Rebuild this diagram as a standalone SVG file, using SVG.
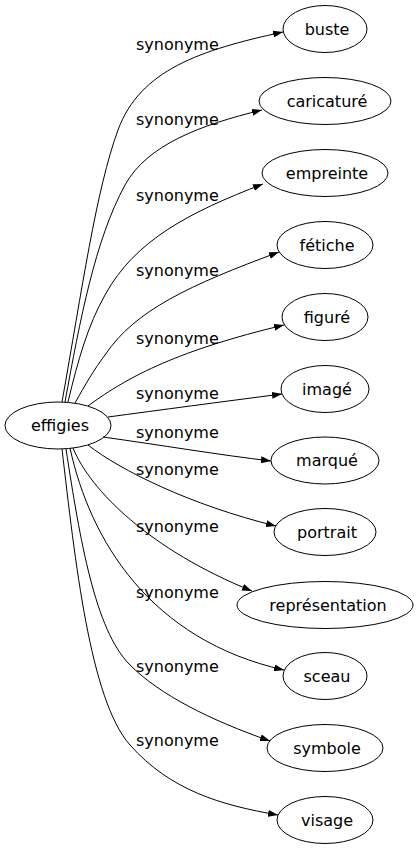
<svg xmlns="http://www.w3.org/2000/svg" width="419" height="851" viewBox="0 0 419 851">
<style>
  .node ellipse { fill: none; stroke: #000; stroke-width: 1; }
  .node text { font-family: "DejaVu Sans", sans-serif; font-size: 16px; text-anchor: middle; fill: #000; }
  .edges path { fill: none; stroke: #000; stroke-width: 1; marker-end: url(#arrow); }
  .edges text { font-family: "DejaVu Sans", sans-serif; font-size: 16px; fill: #000; }
</style>
<defs>
  <marker id="arrow" markerUnits="userSpaceOnUse" markerWidth="10" markerHeight="7" viewBox="0 0 10 7" refX="10" refY="3.5" orient="auto">
    <path d="M0,0 L10,3.5 L0,7 z" fill="#000"/>
  </marker>
</defs>
<rect width="419" height="851" fill="#fff"/>
<g class="edges" id="edges">
  <path d="M62,402 C82,290 96,190 118,130 C140,70 200,50 283,32"/>
  <path d="M65,402 C80,320 95,240 125,185 C147,145 200,125 262,110"/>
  <path d="M68,402 C78,360 88,325 105,295 C135,240 190,212 263,184"/>
  <path d="M75,403 C85,385 95,368 105,355 C135,310 190,285 279,252"/>
  <path d="M88,406 C130,375 180,350 284,325"/>
  <path d="M108,417 C160,410 220,402 282,394"/>
  <path d="M103,437 C160,445 220,455 271,461"/>
  <path d="M88,445 C120,470 190,505 276,526"/>
  <path d="M73,448 C90,490 150,550 252,591"/>
  <path d="M70,448 C90,540 150,640 284,670"/>
  <path d="M66,449 C80,540 95,630 130,665 C160,695 210,720 270,741"/>
  <path d="M62,449 C75,560 90,700 130,745 C170,790 220,805 278,815"/>
  <text x="136" y="50">synonyme</text>
  <text x="136" y="125">synonyme</text>
  <text x="136" y="201">synonyme</text>
  <text x="136" y="276">synonyme</text>
  <text x="136" y="344">synonyme</text>
  <text x="136" y="399">synonyme</text>
  <text x="136" y="438">synonyme</text>
  <text x="136" y="475">synonyme</text>
  <text x="136" y="532">synonyme</text>
  <text x="136" y="598">synonyme</text>
  <text x="136" y="672">synonyme</text>
  <text x="136" y="746">synonyme</text>
</g>
<g class="node" id="n-effigies"><ellipse cx="58" cy="425.5" rx="53" ry="23.5"/><text x="60" y="431">effigies</text></g>
<g class="node" id="n-buste"><ellipse cx="325" cy="29" rx="42" ry="23.5"/><text x="327" y="34.5">buste</text></g>
<g class="node" id="n-caricature"><ellipse cx="325" cy="101" rx="66" ry="23.5"/><text x="327" y="106.5">caricaturé</text></g>
<g class="node" id="n-empreinte"><ellipse cx="325" cy="173" rx="63" ry="23.5"/><text x="327" y="178.5">empreinte</text></g>
<g class="node" id="n-fetiche"><ellipse cx="325" cy="245" rx="48" ry="23.5"/><text x="327" y="250.5">fétiche</text></g>
<g class="node" id="n-figure"><ellipse cx="325" cy="317" rx="43" ry="23.5"/><text x="327" y="322.5">figuré</text></g>
<g class="node" id="n-image"><ellipse cx="325" cy="389" rx="44" ry="23.5"/><text x="327" y="394.5">imagé</text></g>
<g class="node" id="n-marque"><ellipse cx="325" cy="460.5" rx="54" ry="23.5"/><text x="327" y="466">marqué</text></g>
<g class="node" id="n-portrait"><ellipse cx="325" cy="532" rx="51" ry="23.5"/><text x="327" y="537.5">portrait</text></g>
<g class="node" id="n-representation"><ellipse cx="325" cy="605" rx="88" ry="23.5"/><text x="328" y="610.5">représentation</text></g>
<g class="node" id="n-sceau"><ellipse cx="325" cy="676" rx="42" ry="23.5"/><text x="327" y="681.5">sceau</text></g>
<g class="node" id="n-symbole"><ellipse cx="325" cy="748" rx="58" ry="23.5"/><text x="327" y="753.5">symbole</text></g>
<g class="node" id="n-visage"><ellipse cx="325" cy="820" rx="48" ry="23.5"/><text x="327" y="825.5">visage</text></g>
</svg>
